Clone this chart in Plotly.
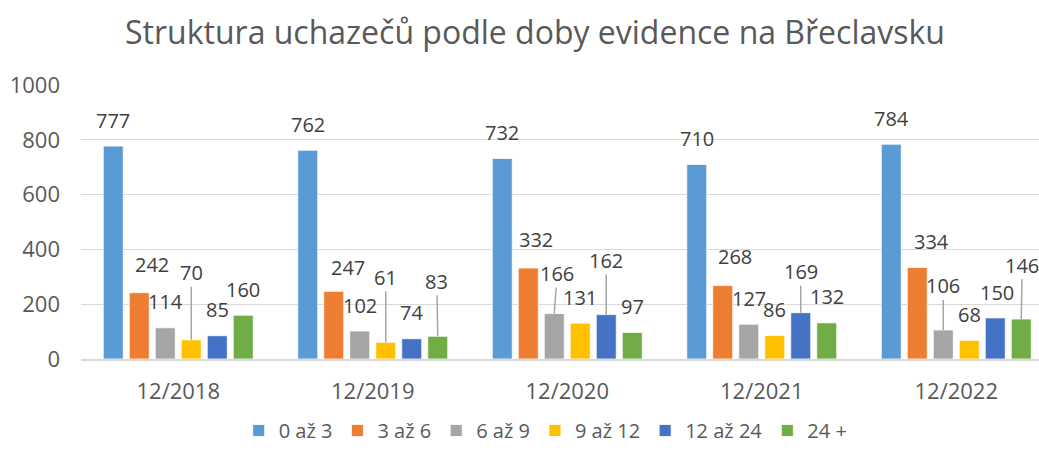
import plotly.graph_objects as go

# ---- data ----
categories = ["12/2018", "12/2019", "12/2020", "12/2021", "12/2022"]
series_names = ["0 až 3", "3 až 6", "6 až 9", "9 až 12", "12 až 24", "24 +"]
s_0_3 = [777, 762, 732, 710, 784]
s_3_6 = [242, 247, 332, 268, 334]
s_6_9 = [114, 102, 166, 127, 106]
s_9_12 = [70, 61, 131, 86, 68]
s_12_24 = [85, 74, 162, 169, 150]
s_24p = [160, 83, 97, 132, 146]
series_values = [s_0_3, s_3_6, s_6_9, s_9_12, s_12_24, s_24p]
y_ticks = [0, 200, 400, 600, 800, 1000]

# ---- style ----
colors = ["#5B9BD5", "#ED7D31", "#A5A5A5", "#FFC000", "#4472C4", "#70AD47"]
FONT = "Open Sans"
BARGAP = 0.198
GROUPGAP = 0.23

# label placement (pixels): (dx, dy_up, leader_line)
default_off = (0, 26, False)
label_offsets = {
    (1, 0): (13, 28, False),
    (3, 0): (0, 67, True),
    (1, 1): (14, 24, False),
    (3, 1): (0, 65, True),
    (5, 1): (-1, 55, True),
    (1, 2): (8, 29, False),
    (2, 2): (3, 40, True),
    (4, 2): (0, 54, True),
    (1, 3): (12, 29, False),
    (4, 3): (0, 41, True),
    (1, 4): (14, 26, False),
    (2, 4): (0, 44, True),
    (4, 4): (2, 25, False),
    (5, 4): (1, 54, True),
}

x_idx = list(range(len(categories)))
n = len(series_names)
slot = (1 - BARGAP) / n

fig = go.Figure()
for i, (name, vals) in enumerate(zip(series_names, series_values)):
    fig.add_trace(go.Bar(
        x=x_idx, y=vals, name=name,
        marker=dict(color=colors[i], line=dict(color="white", width=0.8)),
        hoverinfo="y+name",
    ))

annotations = []
for i, vals in enumerate(series_values):
    off_x = (i - (n - 1) / 2) * slot
    for j, v in enumerate(vals):
        dx, dy, leader = label_offsets.get((i, j), default_off)
        base = dict(x=j + off_x, y=v, xref="x", yref="y", text=str(v),
                    font=dict(family=FONT, size=20, color="#404040"))
        if leader:
            annotations.append(dict(base, showarrow=True, arrowhead=0,
                                    arrowwidth=1.5, arrowcolor="#A6A6A6",
                                    ax=dx, ay=-dy, standoff=0, borderpad=0))
        else:
            annotations.append(dict(base, showarrow=False, xshift=dx, yshift=dy))

fig.update_layout(
    width=1039, height=450,
    margin=dict(l=81, r=0, t=85, b=91),
    paper_bgcolor="white", plot_bgcolor="white",
    barmode="group", bargap=BARGAP, bargroupgap=GROUPGAP,
    font=dict(family=FONT, color="#595959"),
    title=dict(text="Struktura uchazečů podle doby evidence na Břeclavsku",
               x=535 / 1039, xref="container", xanchor="center",
               y=1 - 33 / 450, yref="container", yanchor="middle",
               font=dict(family=FONT, size=32, color="#595959")),
    legend=dict(orientation="h", x=504 / 1039, xanchor="center",
                y=-0.02, yanchor="bottom", yref="container",
                font=dict(family=FONT, size=20, color="#595959"),
                itemwidth=30, traceorder="normal"),
    annotations=annotations,
    showlegend=True,
)
fig.update_xaxes(
    range=[-0.5, -0.5 + 958 / 194.5],
    tickvals=x_idx, ticktext=categories,
    showgrid=False, zeroline=False,
    showline=True, linecolor="#D9D9D9", linewidth=1.5,
    ticks="", ticklabelstandoff=12,
    tickfont=dict(family=FONT, size=22, color="#595959"),
)
fig.update_yaxes(
    range=[0, 1000], tickvals=y_ticks,
    showgrid=True, gridcolor="#D9D9D9", gridwidth=1.2,
    zeroline=False, showline=False, ticks="",
    ticklabelstandoff=20,
    tickfont=dict(family=FONT, size=22, color="#595959"),
)

fig.write_html("out.html", config={"displayModeBar": False},
               post_script="document.body.style.margin='0';document.body.style.padding='0';")
